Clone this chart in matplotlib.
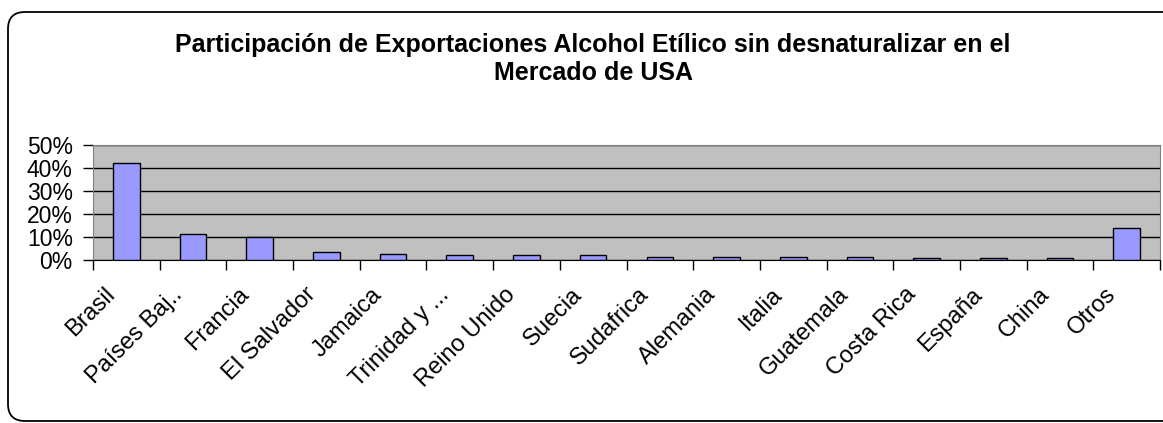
import matplotlib.pyplot as plt
from matplotlib.patches import FancyBboxPatch
from matplotlib.transforms import IdentityTransform, ScaledTranslation
from matplotlib.ticker import PercentFormatter, FixedLocator, NullFormatter
import numpy as np

plt.rcParams['font.family'] = ['Liberation Sans', 'DejaVu Sans']

paises = ['Brasil', 'Países Baj..', 'Francia', 'El Salvador', 'Jamaica',
          'Trinidad y ...', 'Reino Unido', 'Suecia', 'Sudafrica', 'Alemania',
          'Italia', 'Guatemala', 'Costa Rica', 'España', 'China', 'Otros']
participacion = [42.0, 11.2, 10.1, 3.3, 2.6, 2.0, 2.0, 2.0, 1.45, 1.45,
                 1.45, 1.45, 1.0, 1.0, 1.0, 14.0]
y_ticks = [0, 10, 20, 30, 40, 50]
titulo = ('Participación de Exportaciones Alcohol Etílico sin desnaturalizar en el\n'
          'Mercado de USA')

W, H = 1163, 423
fig = plt.figure(figsize=(W / 100, H / 100), dpi=100)

# rounded chart frame, in pixels (display coords, y from bottom)
frame = FancyBboxPatch((8, 2), 1180, H - 2 - 12,
                       boxstyle='round,pad=0,rounding_size=17',
                       transform=IdentityTransform(), fill=False,
                       edgecolor='black', linewidth=1.3)
fig.patches.append(frame)

ax = fig.add_axes([93 / W, (H - 260) / H, (1160 - 93) / W, 115 / H])
ax.set_facecolor('#C0C0C0')

x = np.arange(len(paises))
ax.bar(x, participacion, width=0.4, color='#9999FF', edgecolor='black',
       linewidth=1.0, zorder=3)

ax.set_xlim(-0.5, len(paises) - 0.5)
ax.set_ylim(0, 50)
ax.set_yticks(y_ticks)
ax.yaxis.set_major_formatter(PercentFormatter(decimals=0))
ax.grid(axis='y', color='black', linewidth=1.0, zorder=1)

# ticks between categories, labels centered on the bars
ax.xaxis.set_major_locator(FixedLocator(np.arange(-0.5, len(paises), 1.0)))
ax.xaxis.set_major_formatter(NullFormatter())
ax.xaxis.set_minor_locator(FixedLocator(x))
ax.set_xticklabels(paises, minor=True)
ax.tick_params(axis='x', which='major', length=7, direction='out', width=1)
ax.tick_params(axis='x', which='minor', length=0, pad=17)
shift = ScaledTranslation(-22 / 100, 0, fig.dpi_scale_trans)
for lbl in ax.get_xticklabels(minor=True):
    lbl.set_rotation(45)
    lbl.set_ha('right')
    lbl.set_va('top')
    lbl.set_rotation_mode('anchor')
    lbl.set_fontsize(17)
    lbl.set_transform(lbl.get_transform() + shift)
ax.tick_params(axis='y', length=7, direction='out', width=1, labelsize=16.5, pad=7.5)

for side in ['top', 'right', 'left']:
    ax.spines[side].set_color('#808080')
ax.spines['bottom'].set_color('black')

fig.text(593 / W, (H - 59) / H, titulo, ha='center', va='center',
         fontsize=18, fontweight='bold', linespacing=1.25)

fig.savefig('out.png', dpi=100)
